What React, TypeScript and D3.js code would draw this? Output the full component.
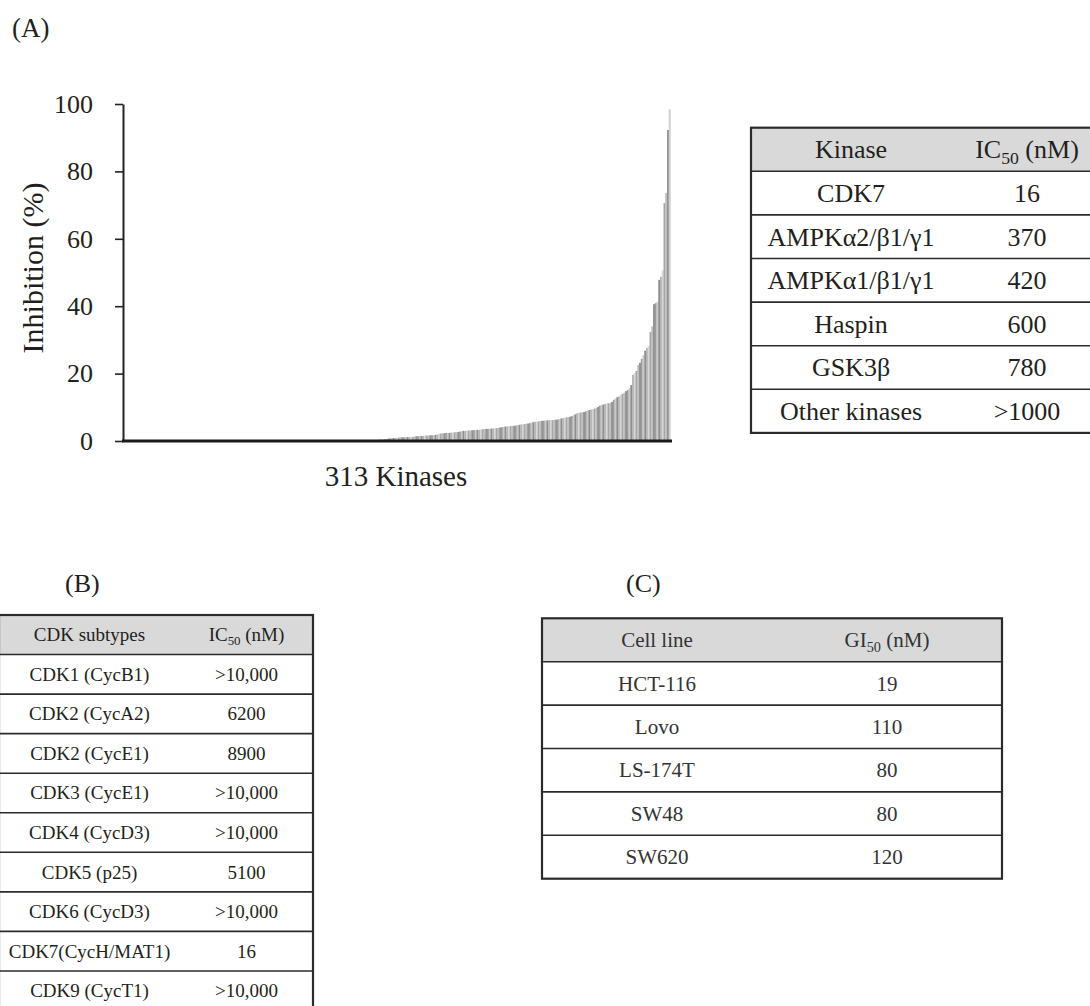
import React, { useEffect, useRef } from 'react';
import { select, scaleBand, scaleLinear, axisLeft, range } from 'd3';

// inhibition (%) of the 313 kinases, sorted ascending
const inhibition = [
  0, 0, 0, 0, 0, 0, 0, 0, 0, 0,
  0, 0, 0, 0, 0, 0, 0, 0, 0, 0,
  0, 0, 0, 0, 0, 0, 0, 0, 0, 0,
  0, 0, 0, 0, 0, 0, 0, 0, 0, 0,
  0, 0, 0, 0, 0, 0, 0, 0, 0, 0,
  0, 0, 0, 0, 0, 0, 0, 0, 0, 0,
  0, 0, 0, 0, 0, 0, 0, 0, 0, 0,
  0, 0, 0, 0, 0, 0, 0, 0, 0, 0,
  0, 0, 0, 0, 0, 0, 0, 0, 0, 0,
  0, 0, 0, 0, 0, 0, 0, 0, 0, 0,
  0, 0, 0, 0, 0, 0, 0, 0, 0, 0,
  0, 0, 0, 0, 0, 0, 0, 0, 0, 0,
  0, 0, 0, 0, 0, 0, 0, 0, 0, 0,
  0, 0, 0, 0, 0, 0, 0, 0, 0, 0,
  0.1, 0.1, 0.2, 0.2, 0.3, 0.3, 0.4, 0.4, 0.5, 0.6,
  0.6, 0.7, 0.8, 0.8, 0.9, 0.9, 1.0, 1.0, 1.1, 1.1,
  1.1, 1.1, 1.2, 1.2, 1.2, 1.2, 1.3, 1.4, 1.4, 1.5,
  1.5, 1.5, 1.6, 1.6, 1.6, 1.7, 1.7, 1.7, 1.8, 1.9,
  2.1, 2.2, 2.3, 2.3, 2.4, 2.4, 2.4, 2.5, 2.5, 2.6,
  2.6, 2.7, 2.8, 2.9, 3.0, 3.0, 3.1, 3.1, 3.1, 3.2,
  3.2, 3.2, 3.3, 3.3, 3.4, 3.5, 3.5, 3.6, 3.6, 3.6,
  3.7, 3.7, 3.8, 3.8, 3.9, 4.0, 4.1, 4.2, 4.3, 4.3,
  4.4, 4.4, 4.5, 4.5, 4.6, 4.7, 4.8, 4.9, 5.0, 5.0,
  5.1, 5.2, 5.3, 5.5, 5.6, 5.7, 5.7, 5.8, 5.9, 6.0,
  6.0, 6.1, 6.1, 6.2, 6.2, 6.2, 6.3, 6.3, 6.4, 6.5,
  6.7, 6.8, 6.9, 7.0, 7.1, 7.2, 7.4, 7.6, 7.9, 8.2,
  8.4, 8.4, 8.5, 8.6, 8.8, 9.0, 9.2, 9.3, 9.5, 9.6,
  9.8, 10.1, 10.5, 10.7, 10.8, 11.0, 11.1, 11.2, 11.3, 11.6,
  12.2, 12.6, 13.0, 13.2, 13.6, 14.0, 14.3, 14.8, 15.1, 15.6,
  16.6, 19.6, 20.2, 20.8, 22.6, 23.2, 24.4, 25.5, 26.8, 27.6,
  28.2, 32.3, 34.0, 40.6, 40.9, 41.3, 47.8, 48.7, 50.6, 70.6,
  73.6, 92.3, 98.4,
];
const yTicks = [0, 20, 40, 60, 80, 100];
const xLabel = '313 Kinases';
const yLabel = 'Inhibition (%)';

const kinaseNames = ['CDK7', 'AMPKα2/β1/γ1', 'AMPKα1/β1/γ1', 'Haspin', 'GSK3β', 'Other kinases'];
const kinaseIC50 = ['16', '370', '420', '600', '780', '>1000'];

const cdkSubtypes = [
  'CDK1 (CycB1)', 'CDK2 (CycA2)', 'CDK2 (CycE1)', 'CDK3 (CycE1)', 'CDK4 (CycD3)',
  'CDK5 (p25)', 'CDK6 (CycD3)', 'CDK7(CycH/MAT1)', 'CDK9 (CycT1)',
];
const cdkIC50 = ['>10,000', '6200', '8900', '>10,000', '>10,000', '5100', '>10,000', '16', '>10,000'];

const cellLines = ['HCT-116', 'Lovo', 'LS-174T', 'SW48', 'SW620'];
const cellGI50 = ['19', '110', '80', '80', '120'];

const barGrays = ['#9c9c9c', '#c9c9c9', '#8e8e8e', '#b4b4b4', '#d6d6d6', '#a6a6a6', '#bdbdbd', '#939393'];
const FONT = '"Liberation Serif", "Times New Roman", serif';
const INK = '#231f20';

const drawTable = (root, t) => {
  const g = root.append('g');
  const rows = range(t.names.length + 1);
  const yRow = scaleBand().domain(rows).range([t.top, t.top + rows.length * t.rowH]);
  const bw = yRow.bandwidth();
  const cx = [(t.left + t.split) / 2, (t.split + t.right) / 2];
  const base = (i) => yRow(i) + bw / 2 + t.fs * 0.34;

  g.append('rect')
    .attr('x', t.left).attr('y', yRow(0))
    .attr('width', t.right - t.left).attr('height', bw)
    .attr('fill', '#d9d9d9');

  g.selectAll('line.row')
    .data(rows.slice(1))
    .join('line')
    .attr('class', 'row')
    .attr('x1', t.left).attr('x2', t.right)
    .attr('y1', (i) => yRow(i)).attr('y2', (i) => yRow(i))
    .attr('stroke', '#2b2b2b').attr('stroke-width', 1.6);

  g.append('rect')
    .attr('x', t.left).attr('y', t.top)
    .attr('width', t.right - t.left).attr('height', rows.length * t.rowH)
    .attr('fill', 'none').attr('stroke', '#2b2b2b').attr('stroke-width', 2.2);

  const txt = g.append('g')
    .attr('font-family', FONT).attr('font-size', t.fs)
    .attr('fill', t.color).attr('text-anchor', 'middle');

  txt.append('text').attr('x', cx[0]).attr('y', base(0)).text(t.head1);
  const h2 = txt.append('text').attr('x', cx[1]).attr('y', base(0));
  h2.append('tspan').text(t.head2[0]);
  h2.append('tspan').attr('font-size', t.fs * 0.68).attr('dy', t.fs * 0.22).text(t.head2[1]);
  h2.append('tspan').attr('dy', -t.fs * 0.22).text(t.head2[2]);

  txt.selectAll('text.name')
    .data(t.names)
    .join('text')
    .attr('class', 'name')
    .attr('x', cx[0]).attr('y', (d, i) => base(i + 1))
    .text((d) => d);
  txt.selectAll('text.val')
    .data(t.values)
    .join('text')
    .attr('class', 'val')
    .attr('x', cx[1]).attr('y', (d, i) => base(i + 1))
    .text((d) => d);
};

export default function App() {
  const svgRef = useRef(null);

  useEffect(() => {
    const svg = select(svgRef.current);
    svg.selectAll('*').remove();

    // ---- (A) bar chart
    const x = scaleBand().domain(range(inhibition.length)).range([123.5, 670.5]).padding(0);
    const y = scaleLinear().domain([0, 100]).range([441, 104]);

    svg.append('g')
      .selectAll('rect')
      .data(inhibition)
      .join('rect')
      .attr('x', (d, i) => x(i))
      .attr('width', x.bandwidth() + 0.2)
      .attr('y', (d) => y(d))
      .attr('height', (d) => y(0) - y(d))
      .attr('fill', (d, i) => (i === inhibition.length - 1 ? '#cfcfcf' : barGrays[i % barGrays.length]));

    svg.append('g')
      .attr('transform', 'translate(123,0)')
      .call(axisLeft(y).tickValues(yTicks).tickSize(8).tickSizeOuter(0).tickPadding(22))
      .call((g) => g.attr('font-size', 26).attr('font-family', FONT))
      .call((g) => g.select('.domain').attr('stroke', '#222').attr('stroke-width', 2))
      .call((g) => g.selectAll('.tick line').attr('stroke', '#222').attr('stroke-width', 1.6))
      .call((g) => g.selectAll('.tick text').attr('fill', INK));

    svg.append('line')
      .attr('x1', 122).attr('x2', 672)
      .attr('y1', y(0)).attr('y2', y(0))
      .attr('stroke', '#1a1a1a').attr('stroke-width', 3);

    const labels = svg.append('g').attr('font-family', FONT).attr('fill', INK);
    labels.append('text').attr('x', 12).attr('y', 37).attr('font-size', 27).text('(A)');
    labels.append('text').attr('x', 65).attr('y', 592).attr('font-size', 26).text('(B)');
    labels.append('text').attr('x', 626).attr('y', 592).attr('font-size', 26).text('(C)');
    labels.append('text')
      .attr('x', 396).attr('y', 486).attr('font-size', 29)
      .attr('text-anchor', 'middle').text(xLabel);
    labels.append('text')
      .attr('transform', 'translate(43,268) rotate(-90)')
      .attr('font-size', 30).attr('text-anchor', 'middle').text(yLabel);

    // ---- tables
    drawTable(svg, {
      left: 751, split: 951, right: 1103, top: 127.7, rowH: 43.6, fs: 26, color: INK,
      head1: 'Kinase', head2: ['IC', '50', ' (nM)'], names: kinaseNames, values: kinaseIC50,
    });
    drawTable(svg, {
      left: -1, split: 180, right: 313, top: 615, rowH: 39.55, fs: 19, color: INK,
      head1: 'CDK subtypes', head2: ['IC', '50', ' (nM)'], names: cdkSubtypes, values: cdkIC50,
    });
    drawTable(svg, {
      left: 542, split: 772, right: 1002, top: 618.3, rowH: 43.4, fs: 21, color: '#333',
      head1: 'Cell line', head2: ['GI', '50', ' (nM)'], names: cellLines, values: cellGI50,
    });
  }, []);

  return (
    <svg
      ref={svgRef}
      width={1090}
      height={1006}
      style={{ position: 'absolute', left: 0, top: 0, background: '#fff' }}
    />
  );
}
